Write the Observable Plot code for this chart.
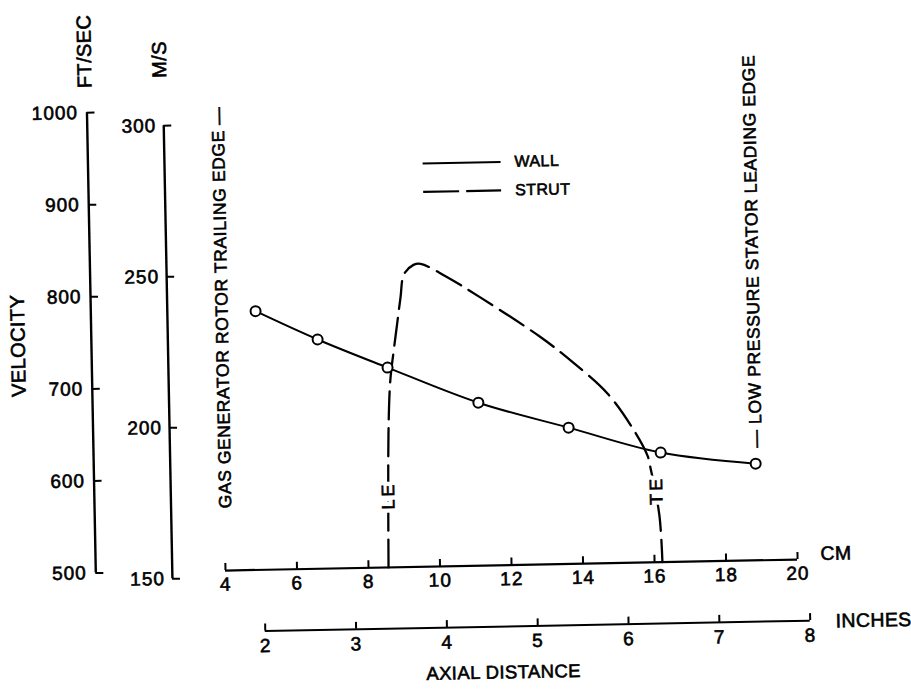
<!DOCTYPE html>
<html>
<head>
<meta charset="utf-8">
<script src="https://cdn.jsdelivr.net/npm/d3@7"></script>
<script src="https://cdn.jsdelivr.net/npm/@observablehq/plot@0.6"></script>
<style>
  html, body { margin: 0; padding: 0; background: #fff; }
  #chart { width: 911px; height: 689px; overflow: hidden; }
  #chart svg { transform: rotate(-1.1deg); transform-origin: 450px 345px; }
  #chart g:not([stroke="white"]) > text:not([stroke="white"]) { stroke: #000; stroke-width: 0.6px; }
  #chart g[stroke="white"] > text { stroke: #fff !important; stroke-width: 9px !important; fill: #fff; }
  #chart g[aria-label$="tick label"] text { letter-spacing: 1px; }
  #chart g[font-size="17.5"] text { letter-spacing: 0.6px; }
  #chart g[font-size="18"] text { letter-spacing: 3px; }
</style>
</head>
<body>
<div id="chart"></div>
<script>
// ---- data ----
const ftTicks = [500, 600, 700, 800, 900, 1000];      // FT/SEC
const msTicks = [150, 200, 250, 300];                 // M/S
const cmTicks = [4, 6, 8, 10, 12, 14, 16, 18, 20];    // CM
const inchTicks = [2, 3, 4, 5, 6, 7, 8];              // INCHES

// WALL velocity (axial distance in cm, velocity in ft/sec)
const wallCm = [4.98, 6.70, 8.64, 11.16, 13.67, 16.23, 18.88];
const wallFt = [781, 749, 717, 677, 648, 619, 605];

// STRUT velocity
const strutCm = [8.56, 8.63, 8.71, 8.82, 8.93, 9.04, 9.15, 9.42, 9.62, 10.31, 11.28, 12.93, 13.76, 14.78, 15.46, 15.86, 15.94, 16.16, 16.22];
const strutFt = [500, 645, 703, 735, 764, 793, 818, 828, 829, 815, 791, 747, 721, 684, 646, 616, 602, 551, 500];

// strut leading / trailing edge labels
const edgeLabels = ["LE", "TE"];
const edgeCm = [8.60, 16.09];
const edgeFt = [578, 578];

// blade-row markers
const markerLabels = ["GAS GENERATOR ROTOR TRAILING EDGE \u2014", "\u2014 LOW PRESSURE STATOR LEADING EDGE"];
const markerCm = [4.04, 18.9];

const legendLabels = ["WALL", "STRUT"];
const legendFt = [938, 907];

const FT_PER_M = 3.2808;
const CM_PER_IN = 2.54;

// tables built from the arrays
const wall = wallCm.map((x, i) => ({x, y: wallFt[i]}));
const strut = strutCm.map((x, i) => ({x, y: strutFt[i]}));
const edges = edgeLabels.map((t, i) => ({t, x: edgeCm[i], y: edgeFt[i]}));
const markers = markerLabels.map((t, i) => ({t, x: markerCm[i]}));
const legend = legendLabels.map((t, i) => ({t, y: legendFt[i]}));

// ---- layout ----
const W = 911, H = 689;
const fLeft = 220.7, fRight = 792.9, fTop = 105.3, fBottom = 565.7;
const ftAxisX = 91, msAxisX = 167.5;
const inchOffset = 61.3;
const font = "'Liberation Sans', Arial, Helvetica, sans-serif";

const chart = Plot.plot({
  width: W,
  height: H,
  marginLeft: fLeft,
  marginRight: W - fRight,
  marginTop: fTop,
  marginBottom: H - fBottom,
  x: {domain: [4, 20]},
  y: {domain: [500, 1000]},
  style: {fontFamily: font, color: "#000", background: "#fff", letterSpacing: "0.4px"},
  marks: [
    // FT/SEC axis
    Plot.ruleX([4], {y1: 500, y2: 1000, dx: ftAxisX - fLeft, strokeWidth: 2.4}),
    Plot.axisY(ftTicks, {anchor: "left", tickSize: 8, dx: ftAxisX - fLeft + 8, tickPadding: 9,
      fontSize: 19, strokeWidth: 2, label: null, tickFormat: d => String(d)}),
    // M/S axis
    Plot.ruleX([4], {y1: msTicks[0] * FT_PER_M, y2: msTicks[msTicks.length - 1] * FT_PER_M, dx: msAxisX - fLeft, strokeWidth: 2.4}),
    Plot.axisY(msTicks.map(v => v * FT_PER_M), {anchor: "left", tickSize: 8, dx: msAxisX - fLeft + 8, tickPadding: 7.5,
      fontSize: 19, strokeWidth: 2, label: null, tickFormat: d => String(Math.round(d / FT_PER_M))}),
    // CM axis
    Plot.ruleY([500], {strokeWidth: 2.2}),
    Plot.axisX(cmTicks, {anchor: "bottom", tickSize: 7, dy: -7, tickPadding: 6.7,
      fontSize: 19, strokeWidth: 2, label: null, tickFormat: d => String(d)}),
    // INCHES axis
    Plot.ruleY([500], {x1: inchTicks[0] * CM_PER_IN, x2: inchTicks[inchTicks.length - 1] * CM_PER_IN, dy: inchOffset, strokeWidth: 2}),
    Plot.axisX(inchTicks.map(v => v * CM_PER_IN), {anchor: "bottom", tickSize: 7, dy: inchOffset - 7, tickPadding: 7.6,
      fontSize: 19, strokeWidth: 2, label: null, tickFormat: d => String(Math.round(d / CM_PER_IN))}),

    // axis titles
    Plot.text(["CM"], {frameAnchor: "bottom-right", dx: 23, dy: -5.3, textAnchor: "start", lineAnchor: "middle", fontSize: 19.5}),
    Plot.text(["INCHES"], {frameAnchor: "bottom-right", dx: 36.8, dy: inchOffset + 1, textAnchor: "start", lineAnchor: "middle", fontSize: 19.5}),
    Plot.text(["AXIAL DISTANCE"], {frameAnchor: "bottom", dx: -10, dy: 107.3, textAnchor: "middle", lineAnchor: "middle", fontSize: 18.5}),
    Plot.text(["VELOCITY"], {frameAnchor: "top-left", dx: 18 - fLeft, dy: 337 - fTop, rotate: -90, textAnchor: "middle", lineAnchor: "middle", fontSize: 20}),
    Plot.text(["FT/SEC"], {frameAnchor: "top-left", dx: 89.6 - fLeft, dy: 44 - fTop, rotate: -90, textAnchor: "middle", lineAnchor: "middle", fontSize: 20}),
    Plot.text(["M/S"], {frameAnchor: "top-left", dx: 164.6 - fLeft, dy: 53.5 - fTop, rotate: -90, textAnchor: "middle", lineAnchor: "middle", fontSize: 20}),

    // blade-row markers
    Plot.text(markers.slice(0, 1), {x: "x", text: "t", frameAnchor: "bottom", dy: -62.1, rotate: -90, textAnchor: "start", lineAnchor: "middle", fontSize: 17.5}),
    Plot.text(markers.slice(1), {x: "x", text: "t", frameAnchor: "bottom", dy: -112.8, rotate: -90, textAnchor: "start", lineAnchor: "middle", fontSize: 17.5}),

    // legend
    Plot.link(legend.slice(0, 1), {x1: 9.73, x2: 11.91, y1: "y", y2: "y", strokeWidth: 2}),
    Plot.link(legend.slice(1), {x1: 9.73, x2: 11.91, y1: "y", y2: "y", strokeWidth: 2.2, strokeDasharray: "36,7"}),
    Plot.text(legend, {x: 12.3, y: "y", text: "t", textAnchor: "start", lineAnchor: "middle", fontSize: 16}),

    // STRUT curve
    Plot.line(strut, {x: "x", y: "y", curve: "catmull-rom", strokeWidth: 2.3, strokeDasharray: "28,9"}),
    // white knock-out behind the LE / TE labels, then the labels
    Plot.text(edges, {x: "x", y: "y", text: "t", rotate: -90, lineAnchor: "middle", fontSize: 18,
      fill: "white", stroke: "white", strokeWidth: 9}),
    Plot.text(edges, {x: "x", y: "y", text: "t", rotate: -90, lineAnchor: "middle", fontSize: 18}),

    // WALL curve
    Plot.line(wall, {x: "x", y: "y", curve: "catmull-rom", strokeWidth: 2}),
    Plot.dot(wall, {x: "x", y: "y", r: 5, fill: "white", stroke: "black", strokeWidth: 2})
  ]
});
document.getElementById("chart").append(chart);
</script>
</body>
</html>
